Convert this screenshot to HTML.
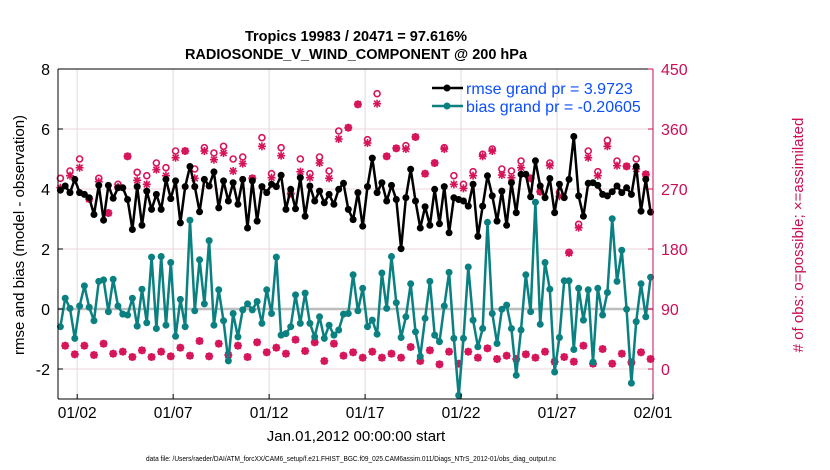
<!DOCTYPE html>
<html><head><meta charset="utf-8"><style>
html,body{margin:0;padding:0;background:#fff;width:830px;height:470px;overflow:hidden}
svg{font-family:"Liberation Sans",Arial,sans-serif}
</style></head><body>
<svg id="chart" width="830" height="470" viewBox="0 0 830 470" xmlns="http://www.w3.org/2000/svg">
<text x="356" y="41" text-anchor="middle" font-size="14.5" font-weight="bold">Tropics 19983 / 20471 = 97.616%</text>
<text x="356" y="59" text-anchor="middle" font-size="14.5" font-weight="bold">RADIOSONDE_V_WIND_COMPONENT @ 200 hPa</text>
<g id="grid"></g>
<g id="marks"></g>
<g id="axes"></g>
<text transform="translate(24,235) rotate(-90)" text-anchor="middle" font-size="15">rmse and bias (model - observation)</text>
<text transform="translate(803,235) rotate(-90)" text-anchor="middle" font-size="15" fill="#cc0e55"># of obs: o=possible; ×=assimilated</text>
<text x="356" y="441" text-anchor="middle" font-size="15">Jan.01,2012 00:00:00 start</text>
<text x="146" y="461" font-size="7.5" textLength="410" lengthAdjust="spacingAndGlyphs">data file: /Users/raeder/DAI/ATM_forcXX/CAM6_setup/f.e21.FHIST_BGC.f09_025.CAM6assim.011/Diags_NTrS_2012-01/obs_diag_output.nc</text>
<g>
<line x1="432" y1="88" x2="463" y2="88" stroke="#000" stroke-width="2.5"/>
<circle cx="447" cy="88" r="3.5" fill="#000"/>
<text x="466" y="94" font-size="16" fill="#0b4dff">rmse grand pr = 3.9723</text>
<line x1="432" y1="106" x2="463" y2="106" stroke="#0b8080" stroke-width="2.5"/>
<circle cx="447" cy="106" r="3.5" fill="#0b8080"/>
<text x="466" y="112" font-size="16" fill="#0b4dff">bias grand pr = -0.20605</text>
</g>
</svg>
<script>
const rmse=[3.96,4.10,3.88,4.32,3.88,3.82,3.71,3.15,4.12,2.96,4.12,3.69,4.04,4.04,3.65,2.65,4.08,2.79,3.93,3.32,3.82,3.32,4.32,3.68,4.27,2.87,4.08,4.75,4.08,3.24,4.32,4.10,4.57,3.37,4.27,3.60,4.21,3.49,4.32,2.70,4.27,2.93,4.08,
3.88,4.16,4.08,4.46,3.32,3.99,3.34,4.38,3.09,4.10,3.60,3.93,3.54,3.82,3.49,3.99,4.19,3.32,2.98,3.88,2.76,4.08,5.03,3.88,4.21,3.60,4.12,3.65,2.01,3.71,4.66,3.60,2.70,3.41,2.79,3.99,2.84,4.08,2.54,3.71,3.65,
3.60,3.43,4.16,2.42,3.43,4.44,3.77,2.93,3.93,2.79,4.21,3.21,4.49,4.49,3.74,4.94,4.10,3.71,4.35,3.21,4.16,3.71,4.32,5.75,3.77,3.09,4.19,4.21,4.12,3.82,3.77,3.91,4.10,3.88,4.04,3.82,4.75,3.26,4.32,3.23];
const bias=[-0.59,0.36,0.02,-0.98,0.10,0.77,0.06,-0.39,0.92,0.97,-0.09,0.99,0.10,-0.17,-0.20,0.36,-0.57,0.66,-0.46,1.73,-0.65,1.75,-0.54,1.55,-0.91,0.32,-0.59,2.96,-0.06,1.64,0.17,2.28,-0.54,0.64,-0.39,-1.73,-0.15,-0.93,-0.03,0.17,-0.03,0.25,-0.48,
0.64,-0.15,1.73,-0.87,-0.82,-0.59,0.47,-0.48,0.53,-0.48,-0.93,-0.26,-0.98,-0.54,-0.87,-0.70,-0.17,-0.15,1.14,-0.06,0.69,-0.59,-0.37,-0.84,1.20,0.02,1.75,0.21,-0.95,-0.26,0.84,-0.76,-1.58,-0.31,0.92,-0.87,-1.09,0.10,1.22,-0.98,-2.88,
-0.98,1.40,-0.37,-1.26,-0.65,2.89,-0.15,-1.15,-0.01,0.13,-0.65,-2.21,-0.70,1.14,-0.09,3.56,-0.51,1.55,0.66,-2.10,-0.95,0.94,0.94,-1.35,0.69,-0.37,0.64,-1.77,0.69,-0.20,0.55,3.01,0.92,1.96,-0.01,-2.47,-0.42,0.84,-0.26,1.06];
// obs counts at 00Z/12Z (even points) and 06Z/18Z (odd points)
const upperPossible=[286,297,315,255,286,234,277,319,295,290,309,302,327,327,300,332,324,334,315,318,286,347,
293,332,263,315,293,318,297,357,362,397,344,413,319,331,335,348,293,309,332,290,
277,296,322,330,300,297,312,286,266,309,265,175,217,327,296,343,312,304,315,292];
const upperAssim=[272,290,302,255,281,234,273,319,283,277,299,290,317,327,286,327,314,324,297,308,286,334,
287,320,263,296,287,309,286,345,362,397,339,398,319,331,330,348,293,309,330,277,
271,290,319,327,291,287,302,286,266,305,259,174,212,317,290,334,305,304,300,292];
const lowerCount=[35,22,35,21,38,23,26,18,28,18,26,19,32,20,42,19,38,21,35,18,40,
25,32,23,44,27,40,12,38,20,25,17,26,17,23,17,33,12,28,7,26,8,
26,17,31,15,20,15,22,17,26,11,18,11,35,8,30,8,23,10,25,15];
const xTickDays=[1,6,11,16,21,26,31];
const xTickLabels=["01/02","01/07","01/12","01/17","01/22","01/27","02/01"];
const yTicksLeft=[-2,0,2,4,6,8];
const yTicksRight=[0,90,180,270,360,450];

const L=58,R=653,T=69,B=399;
const xScale=d=>L+d*(R-L)/31;
const yScale=v=>309-30*v;
const yRight=r=>yScale(-2+r/45);
const tOf=i=>0.125+0.25*i;
const NS="http://www.w3.org/2000/svg";
function mk(tag,parent,attrs){const e=document.createElementNS(NS,tag);for(const k in attrs)e.setAttribute(k,attrs[k]);parent.appendChild(e);return e;}
const grid=document.getElementById('grid'),marks=document.getElementById('marks'),axes=document.getElementById('axes');

yTicksLeft.forEach(v=>{const g=mk('line',grid,{x1:L,x2:R,y1:yScale(v),y2:yScale(v),stroke:'#efd5de','stroke-width':1});

});
xTickDays.forEach(d=>{const g=mk('line',grid,{x1:xScale(d),x2:xScale(d),y1:T,y2:B,stroke:'#dcdcdc','stroke-width':1});

});
const zl=mk('line',grid,{x1:L,x2:R,y1:yScale(0),y2:yScale(0),stroke:'#bdbdbd','stroke-width':2.5});



const MC='#d6145a';
function star(x,y){const s=mk('g',marks,{stroke:MC,'stroke-width':1.6});
mk('line',s,{x1:x-4,x2:x+4,y1:y,y2:y});mk('line',s,{x1:x,x2:x,y1:y-4,y2:y+4});
mk('line',s,{x1:x-3,x2:x+3,y1:y-3,y2:y+3});mk('line',s,{x1:x-3,x2:x+3,y1:y+3,y2:y-3});return s;}
upperPossible.forEach((r,k)=>{const x=xScale(tOf(2*k));
const c=mk('circle',marks,{cx:x,cy:yRight(r),r:3,fill:'none',stroke:MC,'stroke-width':1.6});


const s=star(x,yRight(upperAssim[k]));

});
lowerCount.forEach((r,k)=>{const x=xScale(tOf(2*k+1));
const c=mk('circle',marks,{cx:x,cy:yRight(r),r:3,fill:'none',stroke:MC,'stroke-width':1.6});


const s=star(x,yRight(r));

});

function series(vals,color,name){
const p=mk('polyline',marks,{points:vals.map((v,i)=>xScale(tOf(i)).toFixed(1)+','+yScale(v).toFixed(1)).join(' '),fill:'none',stroke:color,'stroke-width':2.5,'stroke-linejoin':'round'});


vals.forEach((v,i)=>{const c=mk('circle',marks,{cx:xScale(tOf(i)),cy:yScale(v),r:3.5,fill:color});

});}
series(bias,'#0b8080','bias');
series(rmse,'#000000','rmse');

const al=mk('line',axes,{x1:L,x2:L,y1:T,y2:B,stroke:'#000','stroke-width':1});


const ab=mk('line',axes,{x1:L,x2:R,y1:B,y2:B,stroke:'#000','stroke-width':1});


const at=mk('line',axes,{x1:L,x2:R,y1:T,y2:T,stroke:'#000','stroke-width':1});


const ar=mk('line',axes,{x1:R,x2:R,y1:T,y2:B,stroke:'#cc0e55','stroke-width':1});


yTicksLeft.forEach(v=>{mk('line',axes,{x1:L,x2:L+5,y1:yScale(v),y2:yScale(v),stroke:'#000'});
const t=mk('text',axes,{x:L-8,y:yScale(v)+6,'text-anchor':'end','font-size':16});t.textContent=v;

});
yTicksRight.forEach(r=>{mk('line',axes,{x1:R-5,x2:R,y1:yRight(r),y2:yRight(r),stroke:'#cc0e55'});
const t=mk('text',axes,{x:R+8,y:yRight(r)+6,'font-size':16,fill:'#cc0e55'});t.textContent=r;

});
xTickDays.forEach((d,i)=>{mk('line',axes,{x1:xScale(d),x2:xScale(d),y1:B-5,y2:B,stroke:'#000'});
const t=mk('text',axes,{x:xScale(d),y:B+19,'text-anchor':'middle','font-size':15.5});t.textContent=xTickLabels[i];

});
</script>
</body></html>
